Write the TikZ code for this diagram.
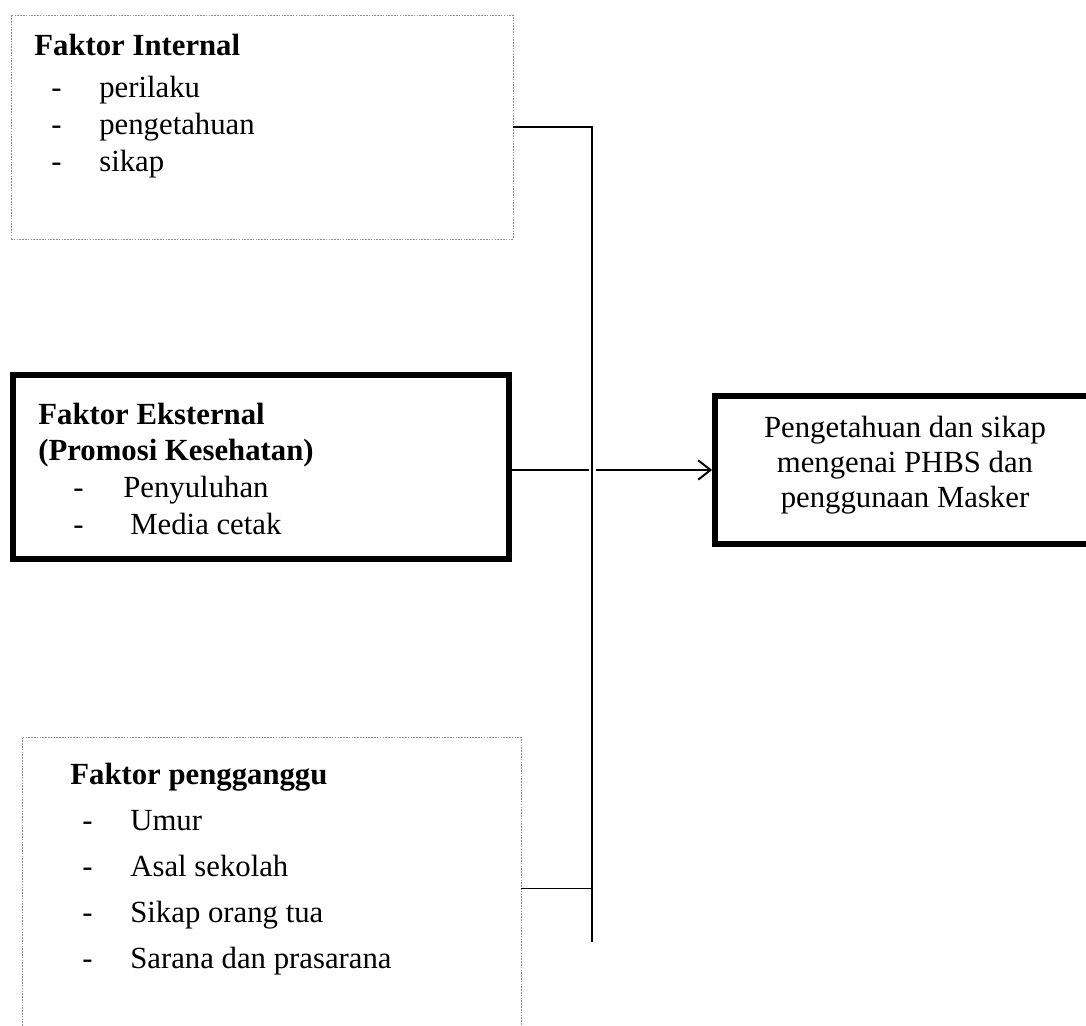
\documentclass[tikz,border=0pt]{standalone}
\usepackage{fontspec}
\setmainfont{Liberation Serif}
\usepackage{tikz}
\usetikzlibrary{positioning, arrows.meta, calc, fit}

\begin{document}
\begin{tikzpicture}[
          x=0.02cm, y=-0.02cm,
          txt/.style={anchor=base west, inner sep=0pt,
                      font=\fontsize{17.5}{21}\selectfont},
          head/.style={txt, font=\fontsize{17.5}{21}\selectfont\bfseries},
          dotbox/.style={draw=black!45, line width=0.5pt,
                         dash pattern=on 0.9pt off 0.7pt, inner sep=0pt},
          boldbox/.style={draw, line width=3.3pt, inner sep=0pt},
          lnk/.style={line width=1.1pt}
        ]
        \useasboundingbox (0,0) rectangle (1086,1026);

        % Faktor Internal (top, dotted)
        \node[dotbox, fit={(11,15) (513,239)}] (intl) {};
        \node[head] (intl-h) at (34,56) {Faktor Internal};
        \foreach \t [count=\i] in {perilaku, pengetahuan, sikap} {
          \node[txt] (intl-d\i) at (51, 61+37*\i) {-};
          \node[txt] (intl-t\i) at (99, 61+37*\i) {\t};
        }

        % Faktor Eksternal (middle, heavy frame)
        \node[boldbox, fit={(13,375) (509,559)}] (ext) {};
        \node[head] (ext-h1) at (38,425) {Faktor Eksternal};
        \node[head] (ext-h2) at (38,461) {(Promosi Kesehatan)};
        \node[txt] (ext-d1) at (73,498) {-};
        \node[txt] (ext-t1) at (123,498) {Penyuluhan};
        \node[txt] (ext-d2) at (73,535) {-};
        \node[txt] (ext-t2) at (130,535) {Media cetak};

        % Hasil (right, heavy frame)
        \node[boldbox, fit={(715,396) (1100,544)}] (out) {};
        \node[font=\fontsize{17.5}{20}\selectfont, align=center]
              (out-t) at (905,465)
              {Pengetahuan dan sikap\\mengenai PHBS dan\\penggunaan Masker};

        % Faktor pengganggu (bottom, dotted)
        \node[dotbox, fit={(22,737) (521,1040)}] (peng) {};
        \node[head] (peng-h) at (70,785) {Faktor pengganggu};
        \foreach \t [count=\i] in {Umur, Asal sekolah, Sikap orang tua,
                                   Sarana dan prasarana} {
          \node[txt] (peng-d\i) at (82, 785+46*\i) {-};
          \node[txt] (peng-t\i) at (130, 785+46*\i) {\t};
        }

        % Garis penghubung
        \coordinate (busbot) at (592,942);
        \draw[lnk] (intl.east) -| (busbot);
        \draw[lnk] (peng.east) -- (peng.east -| busbot);
        \draw[lnk] (ext.east |- out.west) -- ($(out.west -| busbot)+(-3,0)$);
        \draw[lnk, -{Straight Barb[length=7pt, width=11pt]}]
              ($(out.west -| busbot)+(4,0)$) -- (out.west);
      \end{tikzpicture}
\end{document}
